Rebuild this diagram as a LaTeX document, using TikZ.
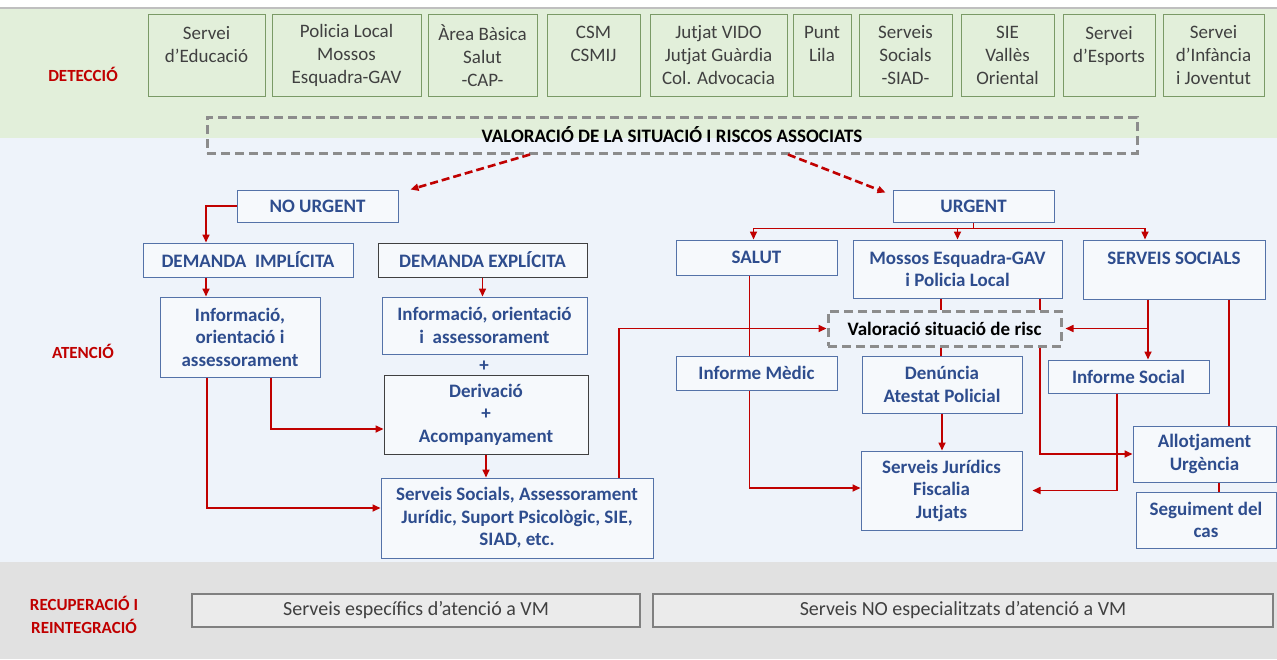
\documentclass[tikz,border=0pt]{standalone}
\usepackage{fontspec}
\setmainfont{Carlito}
\usetikzlibrary{arrows.meta}
\definecolor{bandgreen}{HTML}{E2EFDA}
\definecolor{bandblue}{HTML}{EEF3FA}
\definecolor{bandgrey}{HTML}{E1E1E1}
\definecolor{boxgreen}{HTML}{7A9A66}
\definecolor{boxblue}{HTML}{5472A8}
\definecolor{txtblue}{HTML}{2E4D8E}
\definecolor{arrred}{HTML}{C00000}
\definecolor{dashgrey}{HTML}{8C8C8C}
\definecolor{txtgrey}{HTML}{404040}
\tikzset{
	phase/.style={text=arrred,font=\fontsize{17}{23}\selectfont\bfseries,align=center},
	detect/.style={draw=boxgreen,fill=bandgreen,line width=1pt,text=txtgrey,align=center,
		font=\fontsize{19}{23}\selectfont,minimum height=82pt,inner sep=1pt,anchor=north},
	service/.style={draw=boxblue,fill=bandblue!50!white,line width=1pt,text=txtblue,align=center,
		font=\fontsize{19}{22.5}\selectfont\bfseries,inner sep=1pt},
	darkservice/.style={service,draw=txtgrey},
	assess/.style={draw=dashgrey,line width=3pt,dash pattern=on 9pt off 5pt,align=center,
		font=\fontsize{19}{22}\selectfont\bfseries,inner sep=1pt},
	recovery/.style={draw=black!50,fill=black!8,line width=1.5pt,text=txtgrey,
		font=\fontsize{20}{22}\selectfont,minimum height=33pt,inner sep=1pt},
	flow/.style={draw=arrred,line width=1.6pt,>={Triangle[length=8pt,width=7pt]}},
	choice/.style={flow,line width=2.6pt,dash pattern=on 8pt off 4pt}
}
\begin{document}
\begin{tikzpicture}[x=1pt,y=-1pt]
	\useasboundingbox (0,0) rectangle (1277,659);
	\fill[bandgreen] (0,8) rectangle (1277,138);
	\draw[black!25,line width=2pt] (0,8) -- (1277,8);
	\fill[bandblue] (0,138) rectangle (1277,562);
	\fill[bandgrey] (0,562) rectangle (1277,659);

	\node[phase] (det) at (83,74) {DETECCIÓ};
	\node[phase] (ate) at (83,351) {ATENCIÓ};
	\node[phase] (rec) at (84,615) {RECUPERACIÓ I\\REINTEGRACIÓ};

	\node[detect,minimum width=117pt] (educ) at (206.5,14) {Servei\\d’Educació\\~};
	\node[detect,minimum width=149pt] (poli) at (346.5,14) {Policia Local\\Mossos\\Esquadra-GAV};
	\node[detect,minimum width=109pt] (abs) at (482.5,14) {Àrea Bàsica\\Salut\\-CAP-};
	\node[detect,minimum width=93pt] (csm) at (593.5,14) {CSM\\CSMIJ\\~};
	\node[detect,minimum width=137pt] (jutj) at (718.5,14) {Jutjat VIDO\\Jutjat Guàrdia\\Col. Advocacia};
	\node[detect,minimum width=58pt] (lila) at (822,14) {Punt\\Lila\\~};
	\node[detect,minimum width=93pt] (siad) at (905.5,14) {Serveis\\Socials\\-SIAD-};
	\node[detect,minimum width=93pt] (sie) at (1007.5,14) {SIE\\Vallès\\Oriental};
	\node[detect,minimum width=92pt] (esp) at (1109,14) {Servei\\d’Esports\\~};
	\node[detect,minimum width=101pt] (infa) at (1213.5,14) {Servei\\d’Infància\\i Joventut};

	\node[assess,minimum width=930pt,minimum height=36pt] (valor) at (672,135) {VALORACIÓ DE LA SITUACIÓ I RISCOS ASSOCIATS};

	\node[service,minimum width=161pt,minimum height=32pt] (nourg) at (317.5,206) {NO URGENT};
	\node[service,minimum width=161pt,minimum height=32pt] (urg) at (973.5,206) {URGENT};

	\node[service,minimum width=210pt,minimum height=34pt] (dimpl) at (248,260) {DEMANDA\ \ IMPLÍCITA};
	\node[darkservice,minimum width=209pt,minimum height=34pt] (dexpl) at (482.5,260) {DEMANDA EXPLÍCITA};
	\node[service,minimum width=160pt,minimum height=80pt] (info1) at (240,337) {Informació,\\orientació i\\assessorament};
	\node[service,minimum width=205pt,minimum height=57pt] (info2) at (484.5,325.5) {Informació, orientació\\i\ \ assessorament};
	\node[text=txtblue,font=\fontsize{19}{22}\selectfont\bfseries] (plus) at (484,366) {+};
	\node[darkservice,minimum width=204pt,minimum height=79pt] (deriv) at (486,414.5) {Derivació\\+\\Acompanyament};
	\node[service,minimum width=272pt,minimum height=80pt] (ssoc) at (517,518) {Serveis Socials, Assessorament\\Jurídic, Suport Psicològic, SIE,\\SIAD, etc.};

	\node[service,minimum width=161pt,minimum height=35pt] (salut) at (756.5,257.5) {SALUT};
	\node[service,minimum width=209pt,minimum height=58pt] (mossos) at (957.5,269) {Mossos Esquadra-GAV\\i Policia Local};
	\node[service,minimum width=182pt,minimum height=59pt] (ssocials) at (1174,269.5) {SERVEIS SOCIALS\\~};
	\node[assess,font=\fontsize{19}{22}\selectfont,minimum width=233pt,minimum height=35pt] (valrisc) at (944.5,328.5) {\textbf{Valoració situació de risc}};
	\node[service,minimum width=161pt,minimum height=34pt] (imedic) at (756.5,373) {Informe Mèdic};
	\node[service,minimum width=160pt,minimum height=57pt] (denun) at (942,384.5) {Denúncia\\Atestat Policial};
	\node[service,minimum width=161pt,minimum height=33pt] (isocial) at (1128.5,376.5) {Informe Social};
	\node[service,minimum width=161pt,minimum height=79pt] (sjur) at (941.5,490.5) {Serveis Jurídics\\Fiscalia\\Jutjats};
	\node[service,minimum width=143pt,minimum height=56pt] (allot) at (1204.5,454) {Allotjament\\Urgència};
	\node[service,minimum width=140pt,minimum height=56pt] (segui) at (1206,520) {Seguiment del\\cas};

	\node[recovery,minimum width=448pt] (vmesp) at (416,610.5) {Serveis específics d’atenció a VM};
	\node[recovery,minimum width=620pt] (vmno) at (963,610.5) {Serveis NO especialitzats d’atenció a VM};

	\draw[choice,->] ([xshift=-142pt]valor.south) -- ([xshift=12pt]nourg.north east);
	\draw[choice,->] ([xshift=116pt]valor.south) -- ([xshift=-7pt,yshift=-3pt]urg.north west);

	\draw[flow,->] (nourg.west) -| ([xshift=-42pt]dimpl.north);
	\draw[flow,->] ([xshift=-42pt]dimpl.south) -- ([xshift=-42pt]dimpl.south |- info1.north);
	\draw[flow,->] (dexpl.south) -- (dexpl.south |- info2.north);
	\draw[flow,->] ([xshift=-33pt]info1.south) |- ([yshift=10pt]ssoc.west);
	\draw[flow,->] ([xshift=31pt]info1.south) |- ([yshift=-14.5pt]deriv.west);
	\draw[flow,->] (deriv.south) -- (deriv.south |- ssoc.north);
	\draw[flow,->] ([xshift=102pt]ssoc.north) |- (valrisc.west);

	\coordinate (ub) at ([yshift=-6pt]urg.south);
	\draw[flow] (urg.south) -- (ub);
	\draw[flow,->] (ub) -| ([xshift=-3pt]salut.north);
	\draw[flow,->] (ub) -| (mossos.north);
	\draw[flow,->] (ub) -| ([xshift=-29pt]ssocials.north);

	\draw[flow] ([xshift=-7pt]salut.south) -- ([xshift=-7pt]salut.south |- imedic.north);
	\draw[flow,->] ([xshift=-7pt]imedic.south) |- ([yshift=2.5pt]sjur.west);
	\draw[flow] ([xshift=-16.5pt]mossos.south) -- ([xshift=-16.5pt]mossos.south |- valrisc.north);
	\draw[flow] ([xshift=82.5pt]mossos.south) -- ([xshift=82.5pt]mossos.south |- valrisc.north);
	\draw[flow] ([xshift=-3.5pt]valrisc.south) -- ([xshift=-3.5pt]valrisc.south |- denun.north);
	\draw[flow,->] (denun.south) -- (denun.south |- sjur.north);
	\draw[flow,->] ([xshift=95.5pt]valrisc.south) |- (allot.west);
	\draw[flow,->] ([xshift=-26pt]ssocials.south) -- ([xshift=-26pt]ssocials.south |- isocial.north);
	\draw[flow,->] ([xshift=-26pt]ssocials.south |- valrisc.east) -- ([xshift=3pt]valrisc.east);
	\draw[flow] ([xshift=55pt]ssocials.south) -- ([xshift=55pt]ssocials.south |- allot.north);
	\draw[flow,->] ([xshift=-11.5pt]isocial.south) |- ([xshift=10pt]sjur.east);
	\draw[flow] ([xshift=14.5pt]allot.south) -- ([xshift=14.5pt]allot.south |- segui.north);
\end{tikzpicture}
\end{document}
